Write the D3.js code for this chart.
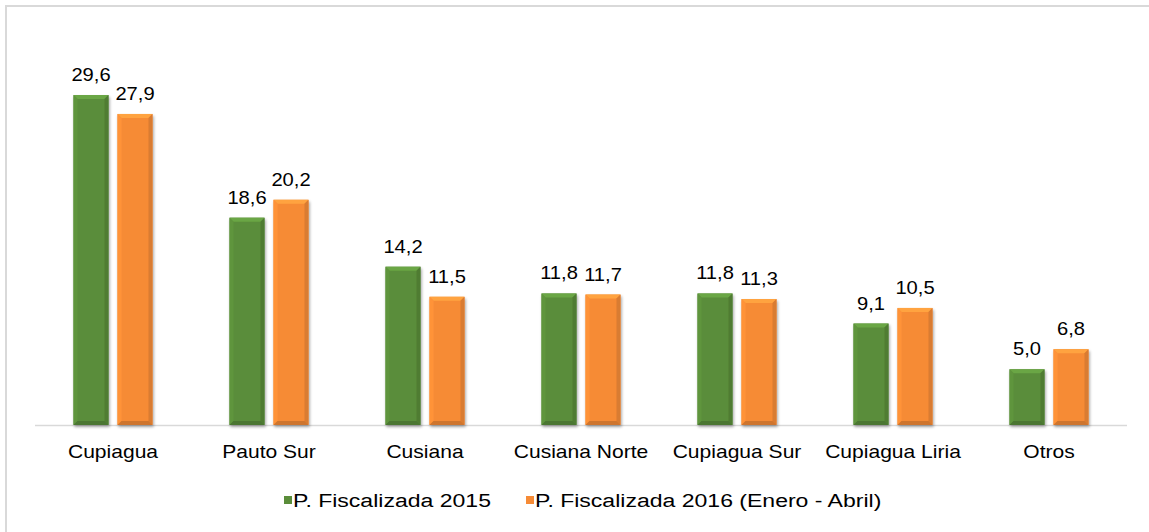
<!DOCTYPE html>
<html>
<head>
<meta charset="utf-8">
<script src="https://cdn.jsdelivr.net/npm/d3@7"></script>
<style>
  html, body { margin: 0; padding: 0; background: #fff; }
  svg { display: block; font-family: "Liberation Sans", Arial, sans-serif; }
</style>
</head>
<body>
<svg id="chart" width="1149" height="532"></svg>
<script>
// Production figures by field
const categories = ["Cupiagua", "Pauto Sur", "Cusiana", "Cusiana Norte", "Cupiagua Sur", "Cupiagua Liria", "Otros"];
const values2015 = [29.6, 18.6, 14.2, 11.8, 11.8, 9.1, 5.0];
const values2016 = [27.9, 20.2, 11.5, 11.7, 11.3, 10.5, 6.8];
const seriesNames = ["P. Fiscalizada 2015", "P. Fiscalizada 2016 (Enero - Abril)"];
const seriesColors = ["#5a8d3a", "#f68b36"];

const svg = d3.select("#chart");
const W = 1149, H = 532;
const FONT = 18, STRETCH = 1.17;

// Text drawn slightly wide, as in the source deck
function label(parent, x, y, str, anchor, sx) {
  return parent.append("text")
    .attr("transform", `translate(${x},${y}) scale(${sx || STRETCH},1)`)
    .attr("text-anchor", anchor || "middle")
    .attr("font-size", FONT).attr("fill", "#000")
    .text(str);
}

// Outer frame
svg.append("rect")
  .attr("x", 6).attr("y", 6).attr("width", W + 10).attr("height", H - 3)
  .attr("fill", "#fff").attr("stroke", "#d9d9d9").attr("stroke-width", 2);

const plot = { left: 35, right: 1127, baseline: 425, top: 95 };

const x0 = d3.scaleBand().domain(categories).range([plot.left, plot.right]).paddingInner(0).paddingOuter(0);
const y = d3.scaleLinear().domain([0, 29.6]).range([plot.baseline, plot.top]);

const barW = 35, gap = 9;
const rows = categories.map((c, i) => ({ cat: c, vals: [values2015[i], values2016[i]] }));

const defs = svg.append("defs");
const f = defs.append("filter").attr("id", "shadow").attr("x", "-20%").attr("y", "-10%").attr("width", "140%").attr("height", "130%");
f.append("feGaussianBlur").attr("in", "SourceAlpha").attr("stdDeviation", 1.6).attr("result", "b");
f.append("feOffset").attr("in", "b").attr("dx", 1).attr("dy", 2).attr("result", "o");
f.append("feComponentTransfer").attr("in", "o").attr("result", "s")
  .append("feFuncA").attr("type", "linear").attr("slope", 0.35);
const m = f.append("feMerge");
m.append("feMergeNode").attr("in", "s");
m.append("feMergeNode").attr("in", "SourceGraphic");

// Axis baseline
svg.append("line")
  .attr("x1", plot.left).attr("x2", plot.right)
  .attr("y1", plot.baseline + 0.5).attr("y2", plot.baseline + 0.5)
  .attr("stroke", "#d9d9d9").attr("stroke-width", 1.3);

const groups = svg.selectAll("g.cat").data(rows).join("g").attr("class", "cat");

groups.each(function(d) {
  const g = d3.select(this);
  const cx = x0(d.cat) + x0.bandwidth() / 2;
  d.vals.forEach((v, s) => {
    const bx = s === 0 ? cx - gap / 2 - barW : cx + gap / 2;
    const by = y(v);
    const bh = plot.baseline - by;
    const col = d3.color(seriesColors[s]);
    const b = 4;
    const bar = g.append("g").attr("filter", "url(#shadow)");
    bar.append("rect").attr("x", bx).attr("y", by).attr("width", barW).attr("height", bh).attr("fill", col);
    // Bevelled edges
    const bevel = (pts, c) => bar.append("polygon").attr("points", pts.map(p => p.join(",")).join(" ")).attr("fill", c);
    bevel([[bx, by], [bx + barW, by], [bx + barW - b, by + b], [bx + b, by + b]], col.brighter(0.45));
    bevel([[bx, by], [bx + b, by + b], [bx + b, by + bh - b], [bx, by + bh]], col.brighter(0.15));
    bevel([[bx + barW, by], [bx + barW, by + bh], [bx + barW - b, by + bh - b], [bx + barW - b, by + b]], col.darker(0.35));
    bevel([[bx, by + bh], [bx + b, by + bh - b], [bx + barW - b, by + bh - b], [bx + barW, by + bh]], col.darker(0.5));
    // Value label
    label(g, bx + barW / 2, by - 14, d3.format(".1f")(v).replace(".", ","), "middle", 1.12);
  });
  label(g, cx, 458, d.cat, "middle");
});

// Legend
const legendItems = [
  { name: seriesNames[0], color: seriesColors[0], x: 284 },
  { name: seriesNames[1], color: seriesColors[1], x: 526 }
];
const lg = svg.selectAll("g.legend").data(legendItems).join("g").attr("class", "legend");
lg.append("rect")
  .attr("x", d => d.x).attr("y", 496).attr("width", 8).attr("height", 8)
  .attr("fill", d => d.color);
lg.each(function(d) {
  label(d3.select(this), d.x + 9, 507, d.name, "start", 1.28);
});
</script>
</body>
</html>
